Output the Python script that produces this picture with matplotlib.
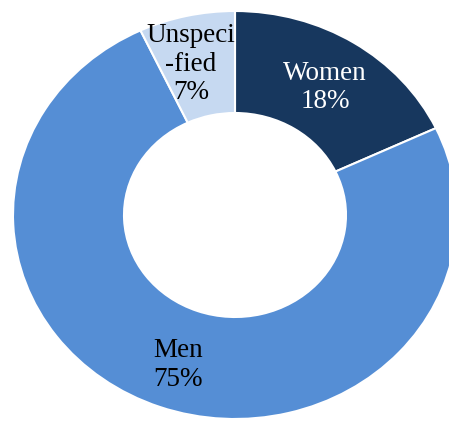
import matplotlib
matplotlib.use("Agg")
import matplotlib.pyplot as plt

# share of respondents by gender
labels = ["Women", "Men", "Unspeci\n-fied"]
shares = [18, 75, 7]
colors = ["#17375e", "#558ed5", "#c6d9f1"]
text_colors = ["white", "black", "black"]
# label centres (data coords)
label_pos = [(0.405, 0.625), (-0.257, -0.735), (-0.198, 0.74)]

plt.rcParams["font.family"] = ["Liberation Serif", "DejaVu Serif"]

fig = plt.figure(figsize=(4.49, 4.21), dpi=100)
ax = fig.add_axes([0, 0, 1, 1])

ax.pie(shares, colors=colors, startangle=90, counterclock=False,
       radius=1.0,
       wedgeprops=dict(width=0.5, edgecolor="white", linewidth=1.5))

# the reference is slightly stretched horizontally
ax.set_aspect("auto")
ax.set_xlim(-235 / 222, (449 - 235) / 222)
ax.set_ylim(-(421 - 215) / 204, 215 / 204)

for lab, val, pos, tc in zip(labels, shares, label_pos, text_colors):
    ax.text(pos[0], pos[1], f"{lab}\n{val}%", color=tc, fontsize=19.5,
            ha="center", va="center", multialignment="center",
            linespacing=1.2)

fig.savefig("out.png", dpi=100)
